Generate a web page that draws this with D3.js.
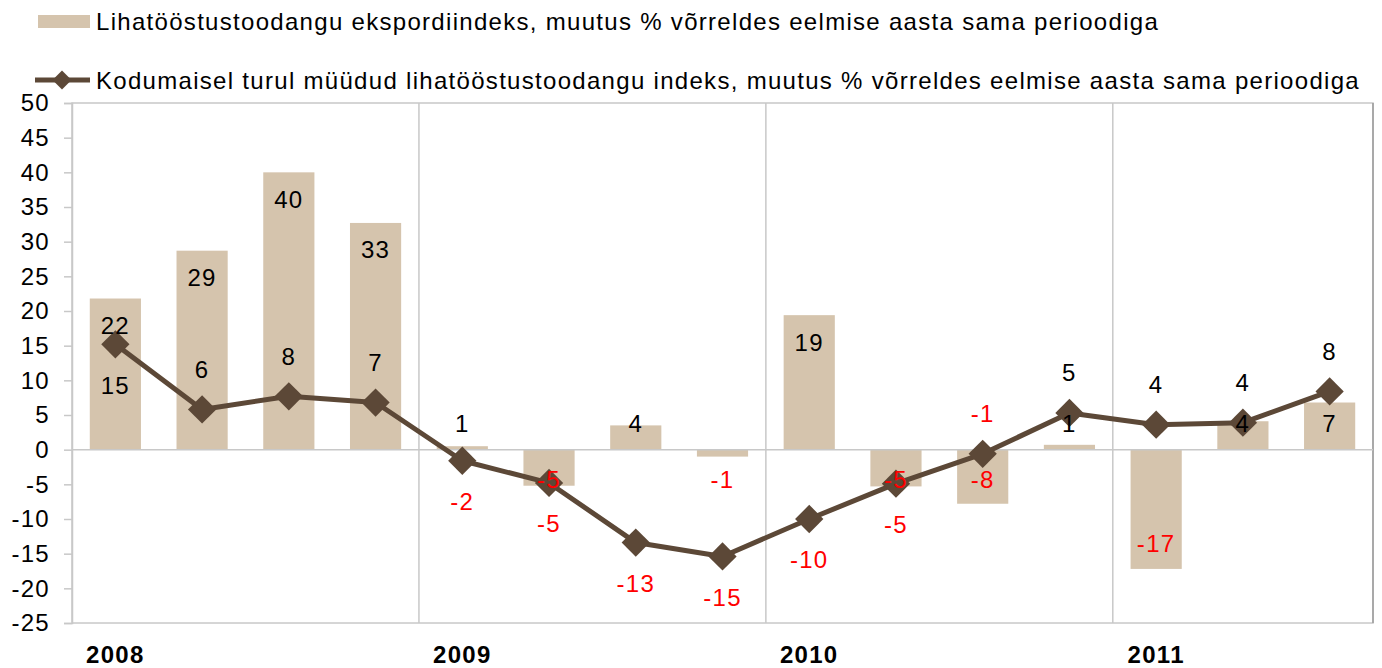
<!DOCTYPE html>
<html>
<head>
<meta charset="utf-8">
<script src="https://cdn.jsdelivr.net/npm/d3@7"></script>
<style>
  body { margin: 0; background: #fff; }
  text { font-family: "Liberation Sans", Arial, sans-serif; font-size: 24px; letter-spacing: 1.3px; }
</style>
</head>
<body>
<svg id="chart"></svg>
<script>
// quarters 2008 Q1 .. 2011 Q3
const quarters = ['2008 I', '2008 II', '2008 III', '2008 IV',
  '2009 I', '2009 II', '2009 III', '2009 IV',
  '2010 I', '2010 II', '2010 III', '2010 IV',
  '2011 I', '2011 II', '2011 III']
const yearLabels = ['2008', '2009', '2010', '2011']
const exportIdx = [21.8, 28.7, 40, 32.7, 0.5, -5.2, 3.5, -1, 19.4, -5.3, -7.8, 0.7, -17.2, 4.1, 6.8]
const domesticIdx = [15.2, 5.8, 7.7, 6.8, -1.6, -4.8, -13.4, -15.4, -10, -4.9, -0.6, 5.3, 3.6, 3.9, 8.4]
const domesticLabelSide = ['below', 'above', 'above', 'above', 'below', 'below', 'below', 'below',
  'below', 'below', 'above', 'above', 'above', 'above', 'above']
const yTicks = [50, 45, 40, 35, 30, 25, 20, 15, 10, 5, 0, -5, -10, -15, -20, -25]
const legendLabels = [
  'Lihatööstustoodangu ekspordiindeks, muutus % võrreldes eelmise aasta sama perioodiga',
  'Kodumaisel turul müüdud lihatööstustoodangu indeks, muutus % võrreldes eelmise aasta sama perioodiga'
]

const width = 1382, height = 668
const margin = { top: 103, right: 9, bottom: 45, left: 72 }
const w = width - margin.left - margin.right
const h = height - margin.top - margin.bottom
const barColor = '#d5c4ad', lineColor = '#5c4837'

const svg = d3.select('#chart').attr('width', width).attr('height', height)

const x = d3.scaleBand().domain(quarters).range([0, w]).paddingInner(0.41).paddingOuter(0.205)
const y = d3.scaleLinear().domain([-25, 50]).range([h, 0])

// legend
const legend = svg.append('g')
legend.append('rect').attr('x', 38).attr('y', 15).attr('width', 52).attr('height', 13).attr('fill', barColor)
legend.append('text').attr('x', 96).attr('y', 22).attr('dy', '0.35em').text(legendLabels[0])
legend.append('line').attr('x1', 35).attr('x2', 90).attr('y1', 80).attr('y2', 80)
  .attr('stroke', lineColor).attr('stroke-width', 5)
legend.append('path')
  .attr('d', d3.symbol().type(d3.symbolSquare).size(180)).attr('fill', lineColor)
  .attr('transform', 'translate(62,80) rotate(45)')
legend.append('text').attr('x', 96).attr('y', 81).attr('dy', '0.35em').text(legendLabels[1])

const chart = svg.append('g').attr('transform', `translate(${margin.left},${margin.top})`)

// plot frame
chart.append('rect').attr('width', w).attr('height', h)
  .attr('fill', 'none').attr('stroke', '#c8c8c8').attr('stroke-width', 1.5)
chart.append('line').attr('x1', w).attr('x2', w).attr('y1', 0).attr('y2', h)
  .attr('stroke', '#9a9a9a').attr('stroke-width', 1.5)

// year separators
const step = x.step()
chart.selectAll('.sep').data([4, 8, 12]).enter().append('line')
  .attr('class', 'sep')
  .attr('x1', d => d * step).attr('x2', d => d * step)
  .attr('y1', 0).attr('y2', h)
  .attr('stroke', '#c8c8c8').attr('stroke-width', 1.5)

// y axis
const yAxis = chart.append('g')
  .call(d3.axisLeft(y).tickValues(yTicks).tickSize(8).tickPadding(14).tickFormat(d => String(d)))
yAxis.select('.domain').attr('stroke', '#c8c8c8').attr('stroke-width', 1.5)
yAxis.selectAll('.tick line').attr('stroke', '#c8c8c8').attr('stroke-width', 1.5)
yAxis.selectAll('.tick text').attr('fill', '#000')
  .attr('font-size', null).attr('font-family', null)

// bars
chart.selectAll('.bar').data(exportIdx).enter().append('rect')
  .attr('class', 'bar')
  .attr('x', (d, i) => x(quarters[i]))
  .attr('y', d => y(Math.max(0, d)))
  .attr('width', x.bandwidth())
  .attr('height', d => Math.abs(y(d) - y(0)))
  .attr('fill', barColor)

// zero line
chart.append('line').attr('x1', 0).attr('x2', w).attr('y1', y(0)).attr('y2', y(0))
  .attr('stroke', '#c8c8c8').attr('stroke-width', 1.5)

const labelColor = v => Math.round(v) < 0 ? '#ff0000' : '#000'

// line
const cx = i => x(quarters[i]) + x.bandwidth() / 2
chart.append('path').datum(domesticIdx)
  .attr('d', d3.line().x((d, i) => cx(i)).y(d => y(d)))
  .attr('fill', 'none').attr('stroke', lineColor).attr('stroke-width', 5)
  .attr('stroke-linejoin', 'round')

chart.selectAll('.marker').data(domesticIdx).enter().append('path')
  .attr('class', 'marker')
  .attr('transform', (d, i) => `translate(${cx(i)},${y(d)}) rotate(45)`)
  .attr('d', d3.symbol().type(d3.symbolSquare).size(400))
  .attr('fill', lineColor)

// bar labels (inside end), drawn above the line
chart.selectAll('.blabel').data(exportIdx).enter().append('text')
  .attr('class', 'blabel')
  .attr('x', (d, i) => cx(i))
  .attr('y', d => d >= 0 ? Math.min(y(d) + 27, y(0) - 26) : Math.max(y(d) - 25, y(0) + 30))
  .attr('dy', '0.35em')
  .attr('text-anchor', 'middle')
  .attr('fill', labelColor)
  .text(d => Math.round(d))

chart.selectAll('.llabel').data(domesticIdx).enter().append('text')
  .attr('class', 'llabel')
  .attr('x', (d, i) => cx(i))
  .attr('y', (d, i) => y(d) + (domesticLabelSide[i] === 'above' ? -40 : 41))
  .attr('dy', '0.35em')
  .attr('text-anchor', 'middle')
  .attr('fill', labelColor)
  .text(d => Math.round(d))

// year labels
chart.selectAll('.year').data(yearLabels).enter().append('text')
  .attr('class', 'year')
  .attr('x', (d, i) => cx(i * 4))
  .attr('y', h + 32)
  .attr('dy', '0.35em')
  .attr('text-anchor', 'middle')
  .attr('font-weight', 'bold')
  .text(d => d)
</script>
</body>
</html>
